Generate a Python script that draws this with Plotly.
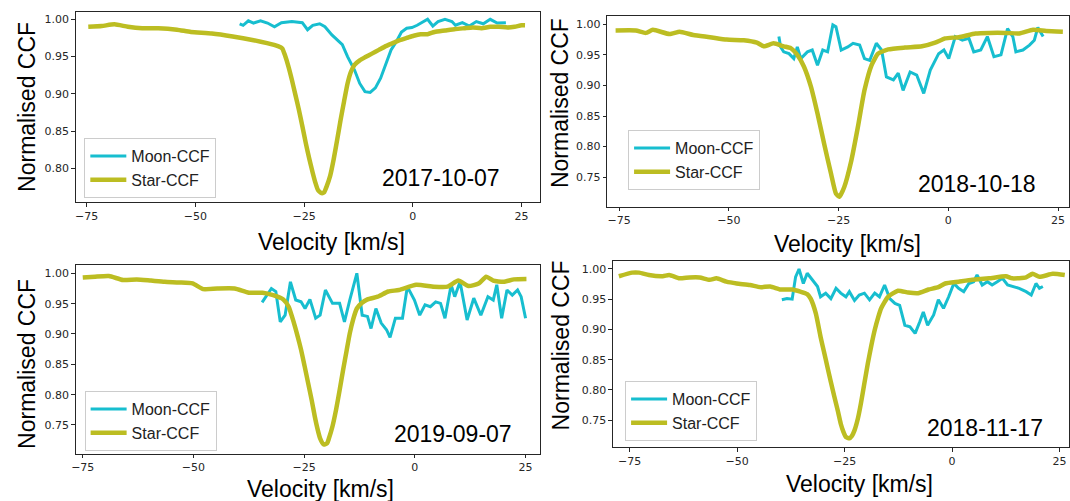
import plotly.graph_objects as go

W, H = 1070, 501

# ---------------- data ----------------
# Panel 2017-10-07
moon_v_a = [-39.8, -39.0, -37.8, -36.6, -35.0, -33.4, -31.8, -30.2, -27.8, -25.4, -24.2, -23.0, -21.4, -20.2,
            -18.6, -17.4, -16.2, -15.0, -13.4, -12.2, -11.0, -9.8, -8.6, -7.4, -6.2, -5.0, -3.8, -2.6, -1.4,
            -0.2, 1.0, 2.6, 3.4, 4.6, 5.8, 7.4, 9.0, 9.8, 11.4, 13.0, 14.6, 16.2, 17.8, 19.4, 21.0, 21.4]
moon_ccf_a = [0.994, 0.992, 0.998, 0.995, 0.998, 0.995, 0.990, 0.9955, 0.997, 0.9955, 0.986, 0.992, 0.994, 0.990,
              0.979, 0.972, 0.966, 0.950, 0.932, 0.914, 0.903, 0.902, 0.908, 0.921, 0.941, 0.959, 0.970, 0.983, 0.988,
              0.989, 0.992, 0.998, 1.000, 0.991, 0.997, 1.000, 0.997, 0.992, 0.9955, 0.991, 0.997, 0.994, 1.000, 0.995, 0.9955, 0.9955]
star_v_a = [-74.6, -71.5, -68.6, -65.5, -62.2, -58.5, -54.2, -51.0, -46.2, -41.4, -36.6, -33.5, -31.0, -30.0,
            -29.4, -28.6, -27.8, -27.0, -26.2, -25.4, -24.6, -23.8, -23.0, -22.4, -21.8, -21.0, -20.4, -19.8,
            -19.0, -18.2, -17.4, -16.6, -15.8, -15.0, -14.2, -13.4, -12.2, -11.0, -9.4, -7.8, -6.2, -4.6, -3.0,
            -1.4, 0.2, 1.8, 3.4, 5.0, 7.4, 9.8, 11.8, 13.8, 15.8, 17.8, 19.8, 21.8, 23.4, 25.0, 25.8]
star_ccf_a = [0.990, 0.991, 0.9933, 0.990, 0.988, 0.988, 0.986, 0.983, 0.981, 0.977, 0.972, 0.968, 0.964, 0.961,
              0.952, 0.937, 0.919, 0.899, 0.879, 0.857, 0.834, 0.813, 0.794, 0.781, 0.771, 0.767, 0.768, 0.776,
              0.790, 0.812, 0.838, 0.865, 0.890, 0.914, 0.930, 0.939, 0.945, 0.949, 0.954, 0.959, 0.964, 0.968, 0.972,
              0.975, 0.978, 0.980, 0.980, 0.983, 0.985, 0.987, 0.988, 0.989, 0.988, 0.990, 0.990, 0.989, 0.990, 0.992, 0.992]

# Panel 2018-10-18
moon_v_b = [-38.6, -38.2, -37.5, -36.3, -35.2, -34.4, -33.6, -32.1, -31.0, -29.8, -28.6, -27.5, -26.3, -25.6,
            -24.4, -22.9, -21.7, -20.2, -19.1, -17.9, -16.4, -15.2, -14.1, -12.5, -11.4, -10.3, -8.7, -7.2, -5.6,
            -4.1, -2.2, -1.0, 0.1, 1.6, 3.2, 4.7, 5.8, 7.4, 8.9, 10.4, 12.0, 13.5, 14.7, 15.4, 17.0, 18.5, 19.6, 20.4, 21.6]
moon_ccf_b = [0.980, 0.963, 0.955, 0.952, 0.944, 0.963, 0.944, 0.955, 0.958, 0.933, 0.958, 0.955, 0.999, 0.996,
              0.958, 0.963, 0.969, 0.966, 0.944, 0.941, 0.969, 0.958, 0.914, 0.909, 0.920, 0.892, 0.922, 0.917, 0.887,
              0.925, 0.952, 0.958, 0.944, 0.980, 0.974, 0.977, 0.955, 0.958, 0.980, 0.947, 0.950, 0.993, 0.980, 0.955,
              0.958, 0.966, 0.974, 0.995, 0.980]
star_v_b = [-75.8, -71.2, -68.9, -67.3, -63.5, -61.2, -58.1, -54.3, -50.5, -46.6, -43.6, -42.0, -39.8, -37.5,
            -35.9, -34.4, -32.9, -31.3, -29.8, -28.3, -26.7, -25.6, -24.8, -23.7, -22.1, -20.6, -19.1, -17.5,
            -16.0, -13.7, -9.9, -6.0, -3.0, -0.7, 2.4, 6.2, 9.3, 13.1, 16.2, 19.3, 22.3, 26.1]
star_ccf_b = [0.990, 0.990, 0.986, 0.991, 0.984, 0.988, 0.9825, 0.979, 0.975, 0.974, 0.970, 0.964, 0.969, 0.964,
              0.961, 0.950, 0.931, 0.898, 0.854, 0.805, 0.755, 0.723, 0.718, 0.734, 0.777, 0.832, 0.892, 0.933,
              0.952, 0.959, 0.962, 0.964, 0.970, 0.977, 0.979, 0.985, 0.986, 0.986, 0.985, 0.991, 0.989, 0.988]

# Panel 2019-09-07
moon_v_c = [-34.5, -33.6, -32.4, -31.4, -30.4, -29.3, -28.1, -26.9, -25.7, -24.8, -23.7, -22.4, -21.4, -20.2,
            -18.6, -17.0, -15.9, -14.7, -13.1, -11.9, -10.7, -9.9, -8.8, -7.6, -6.4, -5.6, -4.4, -2.8, -1.7, -0.1,
            1.1, 2.3, 3.5, 4.7, 5.8, 6.8, 8.2, 9.0, 10.2, 11.8, 13.3, 14.9, 16.5, 17.7, 18.5, 19.6, 20.8, 22.0,
            23.2, 24.0, 25.0]
moon_ccf_c = [0.952, 0.9615, 0.975, 0.970, 0.920, 0.931, 0.986, 0.956, 0.953, 0.942, 0.957, 0.926, 0.931, 0.9725,
              0.9505, 0.9505, 0.920, 0.956, 1.000, 0.931, 0.929, 0.909, 0.942, 0.918, 0.907, 0.8945, 0.926, 0.926,
              0.978, 0.956, 0.931, 0.948, 0.945, 0.953, 0.9505, 0.926, 0.981, 0.9615, 0.986, 0.923, 0.959, 0.931,
              0.9615, 0.956, 0.981, 0.926, 0.9725, 0.964, 0.9725, 0.9615, 0.926]
star_v_c = [-75.0, -72.2, -69.1, -65.9, -62.8, -59.6, -56.5, -53.3, -50.2, -47.8, -44.6, -40.7, -37.5, -34.4,
            -32.0, -29.7, -28.5, -27.3, -26.5, -25.7, -24.9, -24.1, -23.3, -22.6, -22.0, -21.4, -20.6, -19.8,
            -19.4, -18.6, -17.8, -17.0, -16.2, -15.4, -14.7, -13.9, -13.1, -12.0, -10.7, -8.4, -6.0, -3.6, 0.3,
            4.3, 7.4, 9.8, 12.1, 14.5, 16.1, 17.7, 20.0, 22.4, 25.2]
star_ccf_c = [0.993, 0.9945, 0.9956, 0.989, 0.990, 0.988, 0.986, 0.985, 0.9835, 0.974, 0.975, 0.975, 0.968, 0.968,
              0.964, 0.957, 0.945, 0.918, 0.897, 0.874, 0.847, 0.819, 0.791, 0.764, 0.744, 0.728, 0.718, 0.720,
              0.728, 0.748, 0.775, 0.807, 0.841, 0.873, 0.901, 0.925, 0.942, 0.951, 0.957, 0.9615, 0.970, 0.9725,
              0.981, 0.978, 0.978, 0.988, 0.979, 0.9835, 0.9945, 0.988, 0.986, 0.990, 0.9907]

# Panel 2018-11-17
moon_v_d = [-39.6, -38.4, -37.2, -36.4, -35.6, -34.6, -33.7, -32.5, -31.3, -30.6, -29.4, -28.2, -27.0, -25.9,
            -24.7, -23.9, -22.7, -21.6, -20.4, -19.2, -18.0, -16.9, -15.7, -14.5, -13.3, -12.2, -11.0, -9.8, -8.6,
            -7.5, -6.7, -5.7, -4.3, -3.2, -2.0, -0.8, 0.4, 1.5, 2.7, 3.9, 5.0, 5.8, 7.0, 8.2, 9.3, 10.5, 11.7,
            12.9, 14.0, 15.6, 17.2, 18.4, 19.5, 20.3, 21.1]
moon_ccf_d = [0.949, 0.951, 0.950, 0.987, 1.000, 0.976, 0.993, 0.982, 0.971, 0.954, 0.960, 0.951, 0.968, 0.960,
              0.954, 0.9625, 0.948, 0.957, 0.960, 0.949, 0.960, 0.954, 0.9735, 0.951, 0.943, 0.940, 0.907, 0.9045,
              0.8935, 0.913, 0.929, 0.907, 0.924, 0.949, 0.935, 0.954, 0.976, 0.968, 0.9625, 0.976, 0.979, 0.990,
              0.9735, 0.979, 0.9735, 0.979, 0.9845, 0.9735, 0.971, 0.968, 0.9625, 0.957, 0.976, 0.968, 0.971]
star_v_d = [-77.5, -74.4, -72.8, -70.5, -67.3, -65.8, -63.4, -61.1, -58.7, -56.4, -54.8, -52.5, -50.1, -47.0,
            -44.6, -42.3, -39.9, -37.2, -35.3, -33.7, -32.9, -31.7, -30.6, -29.8, -29.0, -28.2, -27.4, -26.6,
            -25.9, -25.3, -24.7, -23.9, -23.3, -22.7, -21.9, -21.2, -20.4, -19.6, -18.8, -18.0, -17.2, -16.5,
            -14.9, -12.6, -10.2, -7.9, -5.5, -3.2, -1.6, 1.5, 4.7, 8.6, 12.5, 14.0, 17.2, 18.7, 20.3, 23.4, 26.2]
star_ccf_d = [0.988, 0.994, 0.994, 0.990, 0.988, 0.990, 0.9845, 0.986, 0.986, 0.982, 0.9845, 0.979, 0.976, 0.9735,
              0.970, 0.971, 0.966, 0.966, 0.9625, 0.9585, 0.951, 0.9266, 0.888, 0.863, 0.838, 0.813, 0.789, 0.766,
              0.744, 0.731, 0.722, 0.720, 0.724, 0.733, 0.753, 0.778, 0.811, 0.844, 0.873, 0.899, 0.920, 0.935,
              0.954, 0.964, 0.961, 0.960, 0.966, 0.970, 0.976, 0.979, 0.982, 0.9845, 0.988, 0.9845, 0.986, 0.992,
              0.987, 0.992, 0.990]

dates = ["2017-10-07", "2018-10-18", "2019-09-07", "2018-11-17"]
moon_label = "Moon-CCF"
star_label = "Star-CCF"
x_ticks = [-75, -50, -25, 0, 25]
y_ticks = [0.75, 0.80, 0.85, 0.90, 0.95, 1.00]

MOON_COLOR = "#17becf"
STAR_COLOR = "#bcbd22"

# ---------------- layout geometry (pixels) ----------------
panels = [
    dict(px=(72, 539), py=(12, 202), xr=(-77.5, 29.35), yr=(0.755, 1.0098),
         leg=(80.7, 138), date=(439, 178), yt=(23, 107), xt=(329, 242)),
    dict(px=(606, 1070), py=(15.7, 206.5), xr=(-77.72, 27.5), yr=(0.702, 1.0141),
         leg=(627, 130), date=(978, 183.5), yt=(558.7, 103), xt=(847, 244)),
    dict(px=(72, 538.7), py=(265, 453.5), xr=(-76.6, 28.3), yr=(0.703, 1.0137),
         leg=(81, 391), date=(450.7, 433.5), yt=(23, 364), xt=(317.5, 489)),
    dict(px=(611.7, 1070), py=(260.7, 447.3), xr=(-78.9, 27.18), yr=(0.705, 1.0137),
         leg=(624, 381), date=(986, 428), yt=(560, 345), xt=(860, 484)),
]

series = [
    (moon_v_a, moon_ccf_a, star_v_a, star_ccf_a),
    (moon_v_b, moon_ccf_b, star_v_b, star_ccf_b),
    (moon_v_c, moon_ccf_c, star_v_c, star_ccf_c),
    (moon_v_d, moon_ccf_d, star_v_d, star_ccf_d),
]

fig = go.Figure()
layout = dict(
    width=W, height=H, margin=dict(l=0, r=0, t=0, b=0),
    paper_bgcolor="white", plot_bgcolor="white",
    annotations=[], showlegend=True,
)

tick_font = dict(family="DejaVu Sans", size=11, color="#262626")
title_font = dict(family="Liberation Sans, Arial", size=23, color="black")

for i, (p, (mv, mc, sv, sc)) in enumerate(zip(panels, series)):
    n = "" if i == 0 else str(i + 1)
    leg = "legend" if i == 0 else f"legend{i + 1}"
    fig.add_trace(go.Scatter(x=mv, y=mc, mode="lines", name=moon_label,
                             line=dict(color=MOON_COLOR, width=3),
                             xaxis=f"x{n}", yaxis=f"y{n}", legend=leg))
    fig.add_trace(go.Scatter(x=sv, y=sc, mode="lines", name=star_label,
                             line=dict(color=STAR_COLOR, width=4.5, shape="spline", smoothing=0.5),
                             xaxis=f"x{n}", yaxis=f"y{n}", legend=leg))
    x0, x1 = p["px"]
    y0, y1 = p["py"]
    layout[f"xaxis{n}"] = dict(
        domain=[x0 / W, x1 / W], range=list(p["xr"]), anchor=f"y{n}",
        tickvals=x_ticks, ticks="outside", ticklen=3.5, tickwidth=0.8, tickcolor="#262626",
        showline=True, linecolor="#262626", linewidth=1, mirror=True,
        showgrid=False, zeroline=False, tickfont=tick_font,
    )
    layout[f"yaxis{n}"] = dict(
        domain=[1 - y1 / H, 1 - y0 / H], range=list(p["yr"]), anchor=f"x{n}",
        tickvals=y_ticks, tickformat=".2f", ticks="outside", ticklen=3.5, tickwidth=0.8, tickcolor="#262626",
        showline=True, linecolor="#262626", linewidth=1, mirror=True,
        showgrid=False, zeroline=False, tickfont=tick_font,
    )
    layout[leg] = dict(
        x=p["leg"][0] / W, y=1 - p["leg"][1] / H, xanchor="left", yanchor="top",
        xref="paper", yref="paper",
        bgcolor="rgba(255,255,255,0.8)", bordercolor="#cccccc", borderwidth=1,
        font=dict(family="Liberation Sans, Arial", size=16, color="#222222"),
        itemwidth=36, tracegroupgap=0,
    )
    layout["annotations"] += [
        dict(text=dates[i], x=p["date"][0] / W, y=1 - p["date"][1] / H, xref="paper", yref="paper",
             xanchor="center", yanchor="middle", showarrow=False, font=title_font),
        dict(text="Normalised CCF", x=p["yt"][0] / W, y=1 - p["yt"][1] / H, xref="paper", yref="paper",
             xanchor="center", yanchor="middle", showarrow=False, textangle=-90, font=title_font),
        dict(text="Velocity [km/s]", x=p["xt"][0] / W, y=1 - p["xt"][1] / H, xref="paper", yref="paper",
             xanchor="center", yanchor="middle", showarrow=False, font=title_font),
    ]

fig.update_layout(**layout)
fig.write_html("out.html", config={"displayModeBar": False},
               post_script="document.body.style.margin='0';document.body.style.overflow='hidden';")
